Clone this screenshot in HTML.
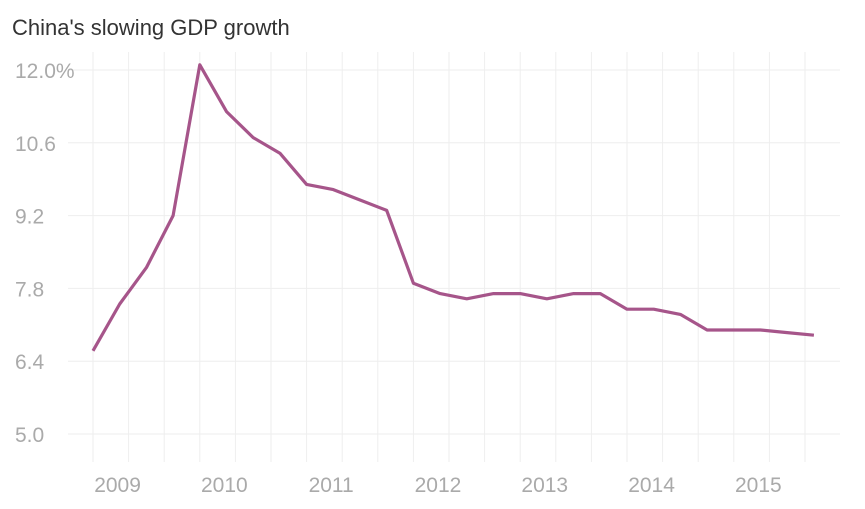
<!DOCTYPE html>
<html><head><meta charset="utf-8"><style>
body{margin:0;background:#fff;width:865px;height:504px;overflow:hidden;font-family:"Liberation Sans",sans-serif}
</style></head><body>
<svg width="865" height="504">
<text x="12" y="35" font-size="22" fill="#333">China's slowing GDP growth</text>
<g id="grid"></g><g id="yl"></g><g id="xl"></g><g id="ln"></g>
</svg>
<script>
const yTicks=[12.0,10.6,9.2,7.8,6.4,5.0];
const yTickLabels=["12.0%","10.6","9.2","7.8","6.4","5.0"];
const years=["2009","2010","2011","2012","2013","2014","2015"];
const yearLabelPos=[2009.23,2010.23,2011.23,2012.23,2013.23,2014.23,2015.23];
const gdp=[6.6,7.5,8.2,9.2,12.1,11.2,10.7,10.4,9.8,9.7,9.5,9.3,7.9,7.7,7.6,7.7,7.7,7.6,7.7,7.7,7.4,7.4,7.3,7.0,7.0,7.0,6.95,6.9];
const NS="http://www.w3.org/2000/svg";
const x=t=>93+(t-2009)*106.8;
const y=v=>434-(v-5)*(364/7.0);
function mk(tag,attrs,parent){const e=document.createElementNS(NS,tag);for(const k in attrs)e.setAttribute(k,attrs[k]);document.getElementById(parent).appendChild(e);return e;}
for(let i=0;i<22;i++){const gx=93+i*35.6;if(gx>840)break;
 const l=mk('line',{x1:gx,x2:gx,y1:52,y2:462,stroke:'#eee','stroke-width':1},'grid');
 
 }
yTicks.forEach((v,i)=>{
 const l=mk('line',{x1:68,x2:840,y1:y(v),y2:y(v),stroke:'#eee','stroke-width':1},'grid');
 
 
 const t=mk('text',{x:15,y:y(v)+8,'font-size':21,fill:'#aaa'},'yl');t.textContent=yTickLabels[i];
 
 
});
years.forEach((s,i)=>{
 const t=mk('text',{x:x(yearLabelPos[i]),y:492,'font-size':21,fill:'#aaa','text-anchor':'middle'},'xl');t.textContent=s;
 
 
});
const pts=gdp.map((v,i)=>x(2009+i*0.25)+','+y(v)).join(' ');
const p=mk('polyline',{points:pts,fill:'none',stroke:'#a6558a','stroke-width':3.2,'stroke-linejoin':'round'},'ln');


</script>
</body></html>
